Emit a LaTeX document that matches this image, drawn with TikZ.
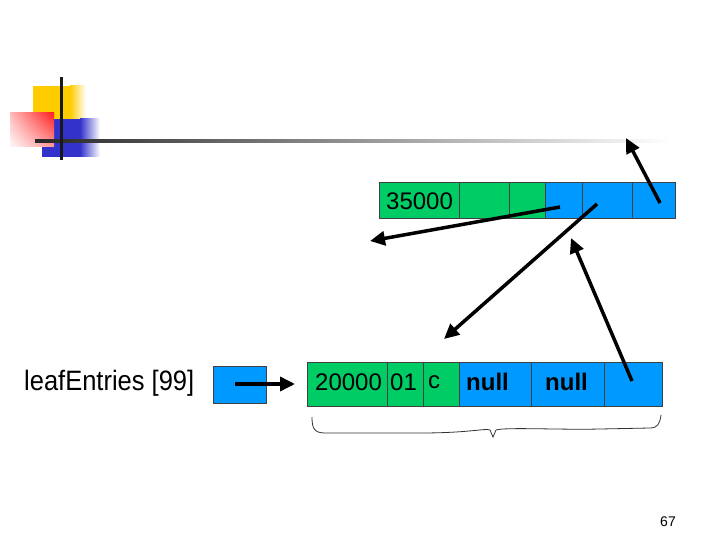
\documentclass[tikz,border=0pt]{standalone}
\usepackage{fontspec}
\setmainfont{Liberation Sans}
\usetikzlibrary{arrows.meta,shadings}
\definecolor{cellgreen}{RGB}{0,204,102}
\definecolor{cellblue}{RGB}{0,153,255}
\definecolor{logoyellow}{RGB}{255,204,0}
\definecolor{logoblue}{RGB}{51,51,204}
\definecolor{logored}{RGB}{255,30,30}
\tikzset{
  cell/.style={draw=black!75, line width=0.7pt, minimum height=#1, inner sep=0pt, outer sep=0pt},
  gcell/.style={cell=36pt, fill=cellgreen},
  bcell/.style={cell=36pt, fill=cellblue},
  lgcell/.style={cell=44pt, fill=cellgreen},
  lbcell/.style={cell=44pt, fill=cellblue},
  celltext/.style={anchor=west, inner sep=0pt, font=\fontsize{24}{28}\selectfont},
  boldtext/.style={celltext, font=\fontsize{24}{28}\selectfont\bfseries},
  ptr/.style={line width=3.5pt, -{Triangle[length=15pt,width=14pt]}},
}
\begin{document}
\begin{tikzpicture}[x=1pt,y=-1pt]
\useasboundingbox (0,0) rectangle (720,540);
% logo
\fill[logoyellow] (33,86) rectangle (70,121);
\shade[left color=logoyellow, right color=white] (70,86) rectangle (86,121);
\fill[logoblue] (42,119) rectangle (80,157);
\shade[left color=logoblue, right color=white] (80,119) rectangle (100,157);
\shade[upper left=logored!30, upper right=logored, lower left=logored!3, lower right=logored!45] (10,113) rectangle (54,147);
\shade[left color=black!85, right color=white] (35,139.5) rectangle (670,142.5);
\fill[black!90] (59.5,77) rectangle (62.5,160);
% top record
\node[gcell, minimum width=80pt] (t1) at (419,200) {};
\node[gcell, minimum width=50pt] (t2) at (484,200) {};
\node[gcell, minimum width=36pt] (t3) at (527,200) {};
\node[bcell, minimum width=37pt] (t4) at (563.5,200) {};
\node[bcell, minimum width=50pt] (t5) at (607,200) {};
\node[bcell, minimum width=43pt] (t6) at (653.5,200) {};
\node[celltext] (t1txt) at (386,201) {35000};
% bottom record
\node[lgcell, minimum width=80pt] (b1) at (347,384) {};
\node[lgcell, minimum width=36pt] (b2) at (405,384) {};
\node[lgcell, minimum width=36pt] (b3) at (441,384) {};
\node[lbcell, minimum width=72pt] (b4) at (495,384) {};
\node[lbcell, minimum width=73pt] (b5) at (567.5,384) {};
\node[lbcell, minimum width=58pt] (b6) at (633,384) {};
\node[celltext] (b1txt) at (315,382) {20000};
\node[celltext] (b2txt) at (390,382) {01};
\node[celltext] (b3txt) at (428,382) {c};
\node[boldtext] (b4txt) at (466,382) {null};
\node[boldtext] (b5txt) at (545,382) {null};
% leaf entries
\node[anchor=west, inner sep=0pt, font=\fontsize{25.5}{30}\selectfont] (lbl) at (24,383) {\scalebox{1}[1.1]{leafEntries [99]}};
\node[cell=37pt, minimum width=53pt, fill=cellblue] (sb) at (239.5,384.5) {};
% arrows
\coordinate (sbs) at (235,384);
\coordinate (sbe) at (295,384);
\draw[ptr] (sbs) -- (sbe);
\coordinate (a1s) at (560,207);
\coordinate (a1e) at (370,241);
\draw[ptr] (a1s) -- (a1e);
\coordinate (a2s) at (597,204);
\coordinate (a2e) at (444,339);
\draw[ptr] (a2s) -- (a2e);
\coordinate (a3s) at (632,381);
\coordinate (a3e) at (571,238);
\draw[ptr] (a3s) -- (a3e);
\coordinate (a4s) at (660,203);
\coordinate (a4e) at (626,138);
\draw[ptr] (a4s) -- (a4e);
% brace
\coordinate (brl) at (312,417);
\coordinate (brm) at (493,437);
\coordinate (brr) at (661,415);
\draw[black!80, line width=0.8pt] (brl) .. controls (312,428) and (314,433) .. (325,433)
  -- (420,433) .. controls (470,433) and (485,428) .. (490,430) -- (brm)
  -- (496,430) .. controls (505,427) and (560,430) .. (600,429)
  -- (650,428) .. controls (658,428) and (660,423) .. (brr);
% page number
\node[font=\fontsize{14}{16}\selectfont] (pg) at (668,522) {67};
\end{tikzpicture}
\end{document}
